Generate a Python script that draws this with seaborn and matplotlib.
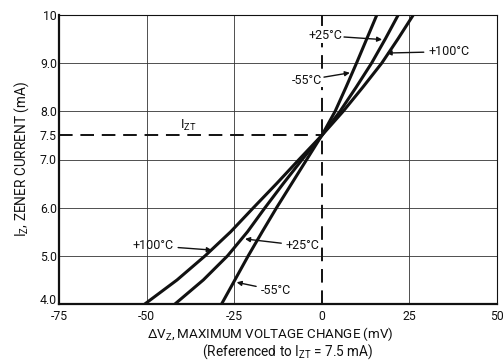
import matplotlib
matplotlib.use("Agg")
import matplotlib.pyplot as plt
import matplotlib.transforms as mtransforms
import seaborn as sns
import pandas as pd

# Zener current (mA) at which each curve was read
current_ma = [4.0, 4.5, 5.0, 5.5, 6.0, 6.5, 7.0, 7.5, 8.0, 8.5, 9.0, 9.5, 10.0]

# Maximum voltage change (mV) referenced to IZT = 7.5 mA
dv_minus55 = [-28.6, -24.8, -21.0, -17.0, -12.9, -8.6, -4.3, 0.0, 3.8, 6.9, 9.9, 12.8, 15.7]
dv_plus25 = [-41.9, -33.8, -26.9, -21.2, -16.2, -11.0, -5.6, 0.0, 5.2, 9.8, 14.2, 18.1, 21.8]
dv_plus100 = [-50.5, -41.3, -33.3, -26.0, -19.5, -12.9, -6.5, 0.0, 6.1, 11.7, 17.1, 21.7, 26.1]

x_ticks = [-75, -50, -25, 0, 25, 50]
x_tick_labels = ["-75", "-50", "-25", "0", "25", "50"]
y_ticks = [4.0, 5.0, 6.0, 7.0, 7.5, 8.0, 9.0, 10.0]
y_tick_labels = ["4.0", "5.0", "6.0", "7.0", "7.5", "8.0", "9.0", "10"]
izt = 7.5

sns.set_theme(style="white")
family = "Roboto"
plt.rcParams["font.family"] = [family, "DejaVu Sans"]
plt.rcParams["mathtext.fontset"] = "custom"
plt.rcParams["mathtext.rm"] = family
plt.rcParams["mathtext.it"] = family

fig = plt.figure(figsize=(5.04, 3.61), dpi=100)
ax = fig.add_axes([59 / 504, 1 - 304 / 361, (497 - 59) / 504, (304 - 15) / 361])

frames = []
for name, vals in [("-55", dv_minus55), ("+25", dv_plus25), ("+100", dv_plus100)]:
    frames.append(pd.DataFrame({"dv": vals, "iz": current_ma, "temp": name}))
df = pd.concat(frames, ignore_index=True)

ink = "#111111"

# grid
for xv in x_ticks[1:-1]:
    if xv != 0:
        ax.axvline(xv, color="#333333", lw=0.6, zorder=1)
for yv in y_ticks[1:-1]:
    if yv != izt:
        ax.axhline(yv, color="#333333", lw=0.6, zorder=1)

# reference lines at IZT and zero change
ax.axvline(0, color=ink, lw=1.4, dashes=(7, 4), zorder=2)
ax.plot([-75, 0], [izt, izt], color=ink, lw=1.4, dashes=(7, 4), zorder=2)

for name in ["-55", "+25", "+100"]:
    sns.lineplot(data=df[df["temp"] == name], x="dv", y="iz", sort=False,
                 color=ink, lw=2.2, ax=ax, zorder=3, legend=False)

ax.set_xlim(-75, 50)
ax.set_ylim(4.0, 10.0)
ax.set_xticks(x_ticks)
ax.set_xticklabels(x_tick_labels)
ax.set_yticks(y_ticks)
ax.set_yticklabels(y_tick_labels)
ax.tick_params(axis="both", length=0, labelsize=8.8, colors=ink)
ax.tick_params(axis="x", pad=4.5)
ax.tick_params(axis="y", pad=1.5)
# lift the bottom y label clear of the x labels
lbl = ax.get_yticklabels()[0]
lbl.set_transform(lbl.get_transform() + mtransforms.ScaledTranslation(0, 5 / 100, fig.dpi_scale_trans))

for side in ["left", "bottom"]:
    ax.spines[side].set_linewidth(1.6)
for side in ["top", "right"]:
    ax.spines[side].set_linewidth(0.8)
for s in ax.spines.values():
    s.set_color(ink)

ax.set_xlabel("")
ax.set_ylabel("I$_\\mathregular{Z}$, ZENER CURRENT (mA)", fontsize=9.8, color=ink, labelpad=6)
fig.text(270 / 504, 1 - 334 / 361, "$\\Delta$V$_\\mathregular{Z}$, MAXIMUM VOLTAGE CHANGE (mV)",
         ha="center", va="center", fontsize=9.6, color=ink)
fig.text(288 / 504, 1 - 352 / 361, "(Referenced to I$_\\mathregular{ZT}$ = 7.5 mA)",
         ha="center", va="center", fontsize=9.8, color=ink)

ax.text(-38, 7.7, "I$_\\mathregular{ZT}$", fontsize=9.5, color=ink, ha="center", va="center")

arrow = dict(arrowstyle="-|>", color=ink, lw=1.0, mutation_scale=7, shrinkA=1, shrinkB=0)
plate = dict(facecolor="white", edgecolor="none", pad=0.5)
# upper labels
ax.annotate("+25°C", xy=(17.2, 9.49), xytext=(0.9, 9.57), fontsize=9, color=ink,
            ha="center", va="center", arrowprops=arrow, bbox=plate, zorder=4)
ax.annotate("-55°C", xy=(8.0, 8.8), xytext=(-4.3, 8.65), fontsize=9, color=ink,
            ha="center", va="center", arrowprops=arrow, bbox=plate, zorder=4)
ax.annotate("+100°C", xy=(18.5, 9.21), xytext=(36.3, 9.24), fontsize=9, color=ink,
            ha="center", va="center", arrowprops=arrow)
# lower labels
ax.annotate("+100°C", xy=(-31.4, 5.12), xytext=(-48.2, 5.21), fontsize=9, color=ink,
            ha="center", va="center", arrowprops=arrow)
ax.annotate("+25°C", xy=(-21.9, 5.35), xytext=(-5.4, 5.21), fontsize=9, color=ink,
            ha="center", va="center", arrowprops=arrow)
ax.annotate("-55°C", xy=(-24.3, 4.45), xytext=(-13.1, 4.28), fontsize=9, color=ink,
            ha="center", va="center", arrowprops=arrow)

fig.savefig("out.png", dpi=100, facecolor="white")
